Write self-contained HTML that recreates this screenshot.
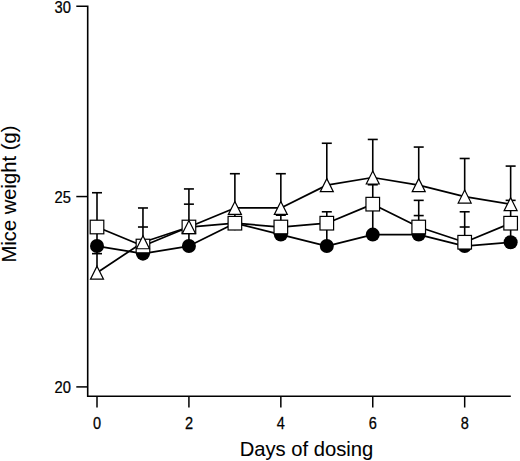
<!DOCTYPE html><html><head><meta charset="utf-8"><style>html,body{margin:0;padding:0;background:#fff;}svg{display:block;}text{font-family:"Liberation Sans",sans-serif;fill:#000;stroke:#000;stroke-width:0.25px;}.big{stroke-width:0.08px;}</style></head><body>
<svg width="520" height="461" viewBox="0 0 520 461">
<path d="M76.3 6.20 H87.7 V396.3 H510.8" fill="none" stroke="#000" stroke-width="1.6" stroke-linejoin="miter"/>
<line x1="76.3" x2="88" y1="386.90" y2="386.90" stroke="#000" stroke-width="1.5"/>
<line x1="76.3" x2="88" y1="196.55" y2="196.55" stroke="#000" stroke-width="1.5"/>
<line x1="97.00" x2="97.00" y1="396" y2="407.5" stroke="#000" stroke-width="1.5"/>
<line x1="188.92" x2="188.92" y1="396" y2="407.5" stroke="#000" stroke-width="1.5"/>
<line x1="280.84" x2="280.84" y1="396" y2="407.5" stroke="#000" stroke-width="1.5"/>
<line x1="372.76" x2="372.76" y1="396" y2="407.5" stroke="#000" stroke-width="1.5"/>
<line x1="464.68" x2="464.68" y1="396" y2="407.5" stroke="#000" stroke-width="1.5"/>
<text transform="translate(71 393.40) scale(0.91 1)" font-size="16.2" text-anchor="end">20</text>
<text transform="translate(71 203.05) scale(0.91 1)" font-size="16.2" text-anchor="end">25</text>
<text transform="translate(71 12.70) scale(0.91 1)" font-size="16.2" text-anchor="end">30</text>
<text transform="translate(97.00 428.6) scale(0.92 1)" font-size="15.8" text-anchor="middle">0</text>
<text transform="translate(188.92 428.6) scale(0.92 1)" font-size="15.8" text-anchor="middle">2</text>
<text transform="translate(280.84 428.6) scale(0.92 1)" font-size="15.8" text-anchor="middle">4</text>
<text transform="translate(372.76 428.6) scale(0.92 1)" font-size="15.8" text-anchor="middle">6</text>
<text transform="translate(464.68 428.6) scale(0.92 1)" font-size="15.8" text-anchor="middle">8</text>
<text class="big" x="306.4" y="455.6" font-size="20.2" text-anchor="middle">Days of dosing</text>
<text class="big" transform="translate(16.3,194) rotate(-90)" font-size="20.2" text-anchor="middle">Mice weight (g)</text>
<polyline points="97.00,246.04 142.96,253.65 188.92,246.04 234.88,223.20 280.84,234.62 326.80,246.04 372.76,234.62 418.72,234.62 464.68,246.04 510.64,242.23" fill="none" stroke="#000" stroke-width="1.75" stroke-linejoin="round"/>
<polyline points="97.00,227.01 142.96,246.04 188.92,227.01 234.88,223.20 280.84,227.01 326.80,223.20 372.76,204.16 418.72,227.01 464.68,242.23 510.64,223.20" fill="none" stroke="#000" stroke-width="1.75" stroke-linejoin="round"/>
<polyline points="97.00,272.69 142.96,242.23 188.92,227.01 234.88,207.97 280.84,207.97 326.80,185.13 372.76,177.51 418.72,185.13 464.68,196.55 510.64,204.16" fill="none" stroke="#000" stroke-width="1.75" stroke-linejoin="round"/>
<line x1="97.00" x2="97.00" y1="192.74" y2="272.69" stroke="#000" stroke-width="1.6"/>
<line x1="92.00" x2="102.00" y1="192.74" y2="192.74" stroke="#000" stroke-width="1.6"/>
<line x1="92.00" x2="102.00" y1="253.65" y2="253.65" stroke="#000" stroke-width="1.6"/>
<line x1="142.96" x2="142.96" y1="207.97" y2="242.23" stroke="#000" stroke-width="1.6"/>
<line x1="137.96" x2="147.96" y1="207.97" y2="207.97" stroke="#000" stroke-width="1.6"/>
<line x1="137.96" x2="147.96" y1="227.01" y2="227.01" stroke="#000" stroke-width="1.6"/>
<line x1="188.92" x2="188.92" y1="188.94" y2="246.04" stroke="#000" stroke-width="1.6"/>
<line x1="183.92" x2="193.92" y1="188.94" y2="188.94" stroke="#000" stroke-width="1.6"/>
<line x1="183.92" x2="193.92" y1="204.16" y2="204.16" stroke="#000" stroke-width="1.6"/>
<line x1="234.88" x2="234.88" y1="173.71" y2="223.20" stroke="#000" stroke-width="1.6"/>
<line x1="229.88" x2="239.88" y1="173.71" y2="173.71" stroke="#000" stroke-width="1.6"/>
<line x1="280.84" x2="280.84" y1="173.71" y2="227.01" stroke="#000" stroke-width="1.6"/>
<line x1="275.84" x2="285.84" y1="173.71" y2="173.71" stroke="#000" stroke-width="1.6"/>
<line x1="275.84" x2="285.84" y1="215.20" y2="215.20" stroke="#000" stroke-width="1.6"/>
<line x1="326.80" x2="326.80" y1="143.25" y2="185.13" stroke="#000" stroke-width="1.6"/>
<line x1="326.80" x2="326.80" y1="211.78" y2="246.04" stroke="#000" stroke-width="1.6"/>
<line x1="321.80" x2="331.80" y1="143.25" y2="143.25" stroke="#000" stroke-width="1.6"/>
<line x1="321.80" x2="331.80" y1="211.78" y2="211.78" stroke="#000" stroke-width="1.6"/>
<line x1="372.76" x2="372.76" y1="139.44" y2="234.62" stroke="#000" stroke-width="1.6"/>
<line x1="367.76" x2="377.76" y1="139.44" y2="139.44" stroke="#000" stroke-width="1.6"/>
<line x1="367.76" x2="377.76" y1="184.75" y2="184.75" stroke="#000" stroke-width="1.6"/>
<line x1="418.72" x2="418.72" y1="147.06" y2="185.13" stroke="#000" stroke-width="1.6"/>
<line x1="418.72" x2="418.72" y1="200.36" y2="227.01" stroke="#000" stroke-width="1.6"/>
<line x1="413.72" x2="423.72" y1="147.06" y2="147.06" stroke="#000" stroke-width="1.6"/>
<line x1="413.72" x2="423.72" y1="200.36" y2="200.36" stroke="#000" stroke-width="1.6"/>
<line x1="413.72" x2="423.72" y1="215.58" y2="215.58" stroke="#000" stroke-width="1.6"/>
<line x1="464.68" x2="464.68" y1="158.48" y2="196.55" stroke="#000" stroke-width="1.6"/>
<line x1="464.68" x2="464.68" y1="211.78" y2="242.23" stroke="#000" stroke-width="1.6"/>
<line x1="459.68" x2="469.68" y1="158.48" y2="158.48" stroke="#000" stroke-width="1.6"/>
<line x1="459.68" x2="469.68" y1="211.78" y2="211.78" stroke="#000" stroke-width="1.6"/>
<line x1="459.68" x2="469.68" y1="227.01" y2="227.01" stroke="#000" stroke-width="1.6"/>
<line x1="510.64" x2="510.64" y1="166.09" y2="242.23" stroke="#000" stroke-width="1.6"/>
<line x1="505.64" x2="515.64" y1="166.09" y2="166.09" stroke="#000" stroke-width="1.6"/>
<line x1="505.64" x2="515.64" y1="200.36" y2="200.36" stroke="#000" stroke-width="1.6"/>
<circle cx="97.00" cy="246.04" r="7.0" fill="#000"/>
<circle cx="142.96" cy="253.65" r="7.0" fill="#000"/>
<circle cx="188.92" cy="246.04" r="7.0" fill="#000"/>
<circle cx="234.88" cy="223.20" r="7.0" fill="#000"/>
<circle cx="280.84" cy="234.62" r="7.0" fill="#000"/>
<circle cx="326.80" cy="246.04" r="7.0" fill="#000"/>
<circle cx="372.76" cy="234.62" r="7.0" fill="#000"/>
<circle cx="418.72" cy="234.62" r="7.0" fill="#000"/>
<circle cx="464.68" cy="246.04" r="7.0" fill="#000"/>
<circle cx="510.64" cy="242.23" r="7.0" fill="#000"/>
<rect x="90.20" y="220.21" width="13.6" height="13.6" fill="#fff" stroke="#000" stroke-width="1.2"/>
<rect x="136.16" y="239.24" width="13.6" height="13.6" fill="#fff" stroke="#000" stroke-width="1.2"/>
<rect x="182.12" y="220.21" width="13.6" height="13.6" fill="#fff" stroke="#000" stroke-width="1.2"/>
<rect x="228.08" y="216.40" width="13.6" height="13.6" fill="#fff" stroke="#000" stroke-width="1.2"/>
<rect x="274.04" y="220.21" width="13.6" height="13.6" fill="#fff" stroke="#000" stroke-width="1.2"/>
<rect x="320.00" y="216.40" width="13.6" height="13.6" fill="#fff" stroke="#000" stroke-width="1.2"/>
<rect x="365.96" y="197.36" width="13.6" height="13.6" fill="#fff" stroke="#000" stroke-width="1.2"/>
<rect x="411.92" y="220.21" width="13.6" height="13.6" fill="#fff" stroke="#000" stroke-width="1.2"/>
<rect x="457.88" y="235.43" width="13.6" height="13.6" fill="#fff" stroke="#000" stroke-width="1.2"/>
<rect x="503.84" y="216.40" width="13.6" height="13.6" fill="#fff" stroke="#000" stroke-width="1.2"/>
<path d="M97.00 266.19 L103.50 279.19 L90.50 279.19 Z" fill="#fff" stroke="#000" stroke-width="1.2" stroke-linejoin="miter"/>
<path d="M142.96 235.73 L149.46 248.73 L136.46 248.73 Z" fill="#fff" stroke="#000" stroke-width="1.2" stroke-linejoin="miter"/>
<path d="M188.92 220.51 L195.42 233.51 L182.42 233.51 Z" fill="#fff" stroke="#000" stroke-width="1.2" stroke-linejoin="miter"/>
<path d="M234.88 201.47 L241.38 214.47 L228.38 214.47 Z" fill="#fff" stroke="#000" stroke-width="1.2" stroke-linejoin="miter"/>
<path d="M280.84 201.47 L287.34 214.47 L274.34 214.47 Z" fill="#fff" stroke="#000" stroke-width="1.2" stroke-linejoin="miter"/>
<path d="M326.80 178.63 L333.30 191.63 L320.30 191.63 Z" fill="#fff" stroke="#000" stroke-width="1.2" stroke-linejoin="miter"/>
<path d="M372.76 171.01 L379.26 184.01 L366.26 184.01 Z" fill="#fff" stroke="#000" stroke-width="1.2" stroke-linejoin="miter"/>
<path d="M418.72 178.63 L425.22 191.63 L412.22 191.63 Z" fill="#fff" stroke="#000" stroke-width="1.2" stroke-linejoin="miter"/>
<path d="M464.68 190.05 L471.18 203.05 L458.18 203.05 Z" fill="#fff" stroke="#000" stroke-width="1.2" stroke-linejoin="miter"/>
<path d="M510.64 197.66 L517.14 210.66 L504.14 210.66 Z" fill="#fff" stroke="#000" stroke-width="1.2" stroke-linejoin="miter"/>
</svg></body></html>
